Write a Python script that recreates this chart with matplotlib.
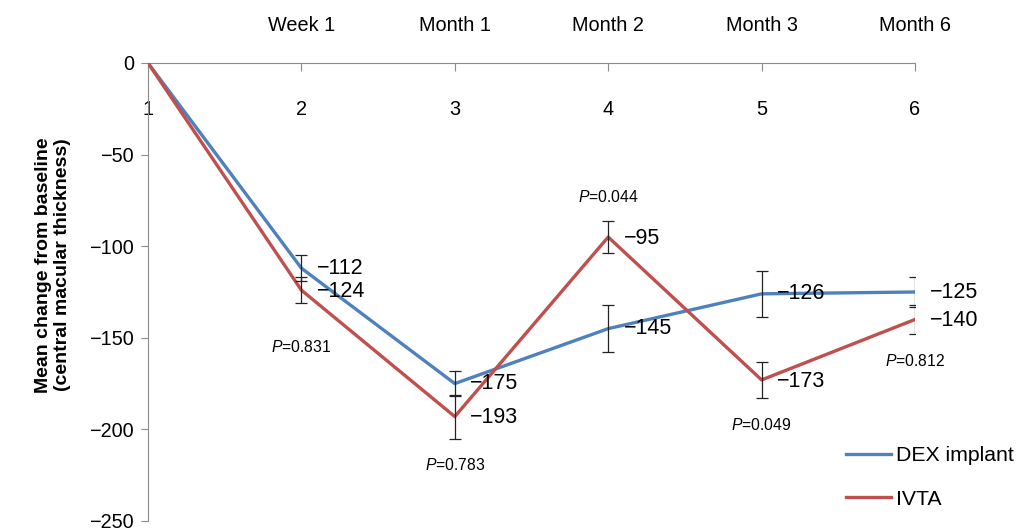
import matplotlib
matplotlib.use("Agg")
import matplotlib.pyplot as plt

plt.rcParams['font.family'] = ['Liberation Sans', 'DejaVu Sans']
plt.rcParams['mathtext.fontset'] = 'custom'
plt.rcParams['mathtext.rm'] = 'Liberation Sans'
plt.rcParams['mathtext.it'] = 'Liberation Sans:italic'

# visit index and labels
visits = [1, 2, 3, 4, 5, 6]
visit_names = ['', 'Week 1', 'Month 1', 'Month 2', 'Month 3', 'Month 6']

# mean change in central macular thickness
dex = [0, -112, -175, -145, -126, -125]
dex_err = [0, 7, 7, 13, 12.5, 8]
ivta = [0, -124, -193, -95, -173, -140]
ivta_err = [0, 7, 12, 8.5, 10, 8]

# p-values per follow-up visit and where each one sits
p_visits = [2, 3, 4, 5, 6]
p_values = ['0.831', '0.783', '0.044', '0.049', '0.812']
p_label_y = [-155, -219.5, -73, -197.5, -162.5]

blue = '#4F81BD'
red = '#C0504D'
grey = '#8C8C8C'

fig = plt.figure(figsize=(10.18, 5.31), dpi=100)
ax = fig.add_axes([148 / 1018, 10 / 531, (915 - 148) / 1018, (521 - 63) / 531])

ax.plot(visits, dex, color=blue, lw=2.4, label='DEX implant', zorder=3)
ax.plot(visits, ivta, color=red, lw=2.4, label='IVTA', zorder=3)
ax.errorbar(visits[1:], dex[1:], yerr=dex_err[1:], fmt='none', ecolor='#222222',
            elinewidth=0.9, capsize=4.5, capthick=0.9, zorder=4)
ax.errorbar(visits[1:], ivta[1:], yerr=ivta_err[1:], fmt='none', ecolor='#222222',
            elinewidth=0.9, capsize=4.5, capthick=0.9, zorder=4)

# value labels next to each point
for x, v in zip(visits[1:], dex[1:]):
    ax.annotate(f'\u2212{abs(v)}', (x, v), xytext=(11, 0), textcoords='offset points',
                va='center', ha='left', fontsize=15.5)
for x, v in zip(visits[1:], ivta[1:]):
    ax.annotate(f'\u2212{abs(v)}', (x, v), xytext=(11, -1), textcoords='offset points',
                va='center', ha='left', fontsize=15.5)

for x, p, y in zip(p_visits, p_values, p_label_y):
    ax.text(x, y, f'$P$={p}', ha='center', va='center', fontsize=11.3)

ax.set_xlim(1, 6)
ax.set_ylim(-250, 0)
ax.set_yticks([0, -50, -100, -150, -200, -250])
ax.set_yticklabels(['0', '\u221250', '\u2212100', '\u2212150', '\u2212200', '\u2212250'])

ax.spines['right'].set_visible(False)
ax.spines['bottom'].set_visible(False)
ax.spines['top'].set_color(grey)
ax.spines['left'].set_color(grey)

ax.xaxis.set_ticks_position('top')
ax.set_xticks(visits)
ax.tick_params(axis='x', direction='in', length=6, color=grey, labelsize=14.3,
               top=True, labeltop=True, bottom=False, labelbottom=False, pad=-40)
ax.tick_params(axis='y', direction='out', length=5, color=grey, labelsize=14.3, pad=5)

# visit names above the axis line
sec = ax.secondary_xaxis('top')
sec.set_xticks(visits)
sec.set_xticklabels(visit_names)
sec.tick_params(length=0, labelsize=14.3, pad=20)
sec.spines['top'].set_visible(False)

ax.set_ylabel('Mean change from baseline\n(central macular thickness)',
              fontsize=14, fontweight='bold', linespacing=1.1)
ax.yaxis.set_label_coords(-0.101, 0.559)

fig.legend(loc='upper left', bbox_to_anchor=(827 / 1018, 1 - 427 / 531), frameon=False,
           fontsize=15.3, handlelength=2.1, labelspacing=1.15, handletextpad=0.25)

fig.savefig('out.png', dpi=100)
